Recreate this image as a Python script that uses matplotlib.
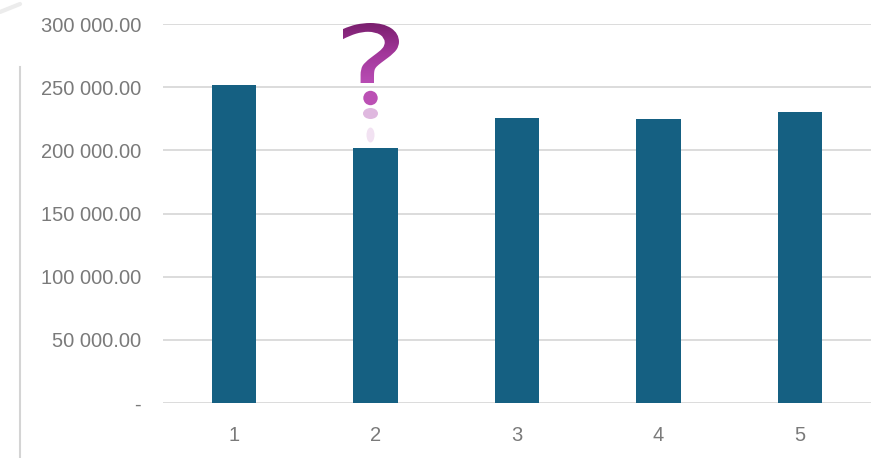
import matplotlib
matplotlib.use("Agg")
import matplotlib.pyplot as plt
import numpy as np
from matplotlib.textpath import TextPath
from matplotlib.patches import PathPatch, Ellipse, Circle
from matplotlib.path import Path
from matplotlib.font_manager import FontProperties
from matplotlib.ticker import FuncFormatter
from matplotlib.transforms import Affine2D
from matplotlib.colors import LinearSegmentedColormap

categories = ["1", "2", "3", "4", "5"]
values = [251500, 201600, 225600, 224500, 230300]
y_ticks = [0, 50000, 100000, 150000, 200000, 250000, 300000]

plt.rcParams['font.family'] = ['Liberation Sans', 'DejaVu Sans']

W, H = 872, 458
fig = plt.figure(figsize=(W / 100, H / 100), dpi=100)
ax = fig.add_axes([163.25 / W, 55 / H, 707.5 / W, 379 / H])

x = np.arange(len(categories))
ax.bar(x, values, width=0.311, color="#156082", zorder=3)
ax.set_xlim(-0.5, len(categories) - 0.5)
ax.set_ylim(0, 300000)
ax.set_xticks(x)
ax.set_xticklabels(categories)
ax.set_yticks(y_ticks)

def fmt(v, pos):
    if v == 0:
        return "-"
    return f"{v:,.2f}".replace(",", " ")

ax.yaxis.set_major_formatter(FuncFormatter(fmt))
ax.grid(axis="y", color="#d9d9d9", linewidth=1.3, zorder=0)
ax.set_axisbelow(True)
for s in ax.spines.values():
    s.set_visible(False)
ax.tick_params(axis="both", length=0, labelsize=14.5, labelcolor="#7a7a7a")
ax.tick_params(axis="y", pad=16)
ax.tick_params(axis="x", pad=16.5)

# decoration overlay in pixel coordinates
deco = fig.add_axes([0, 0, 1, 1], zorder=5)
deco.axis("off")
deco.patch.set_alpha(0)

# left vertical line remnant
deco.plot([20, 20], [67, H], color="#d4d4d4", linewidth=1.5)
# faint smudge at top-left
deco.plot([0, 20], [12, 4], color="#ececec", linewidth=3, solid_capstyle="round")

# question mark hook (glyph without its dot) with gradient
fp = FontProperties(family="DejaVu Sans")
tp = TextPath((0, 0), "?", size=100, prop=fp)
polys = tp.to_polygons()
maxys = [p[:, 1].max() for p in polys]
dot_idx = int(np.argmin(maxys))
hook_polys = [p for i, p in enumerate(polys) if i != dot_idx]
hook = Path.make_compound_path(*[Path(p, closed=True) for p in hook_polys])
ext = hook.get_extents()
bx0, bx1, by0, by1 = 343, 399, 23, 83
sx = (bx1 - bx0) / ext.width
sy = (by1 - by0) / ext.height
tr = Affine2D().translate(-ext.x0, -ext.y1).scale(sx, -sy).translate(bx0, by0)
hpath = tr.transform_path(hook)
patch = PathPatch(hpath, facecolor="none", edgecolor="none")
deco.add_patch(patch)
grad = np.linspace(0, 1, 256).reshape(-1, 1)
cmap = LinearSegmentedColormap.from_list("q", ["#7a1f6e", "#a2379a", "#b84cb4"])
im = deco.imshow(grad, extent=(bx0, bx1, by1, by0), cmap=cmap, aspect="auto",
                 zorder=6, interpolation="bilinear")
im.set_clip_path(patch)

# dot
deco.add_patch(Circle((370.5, 98), 7.2, facecolor="#bb50b4", edgecolor="none", zorder=6))

# faded reflection
deco.add_patch(Ellipse((370.5, 113.5), 15, 11, facecolor="#d29ad2", alpha=0.7,
                       edgecolor="none", zorder=6))
deco.add_patch(Ellipse((370.5, 135), 8, 15, facecolor="#e8cbe8", alpha=0.55,
                       edgecolor="none", zorder=6))

deco.set_xlim(0, W)
deco.set_ylim(H, 0)

fig.savefig("out.png", dpi=100)
